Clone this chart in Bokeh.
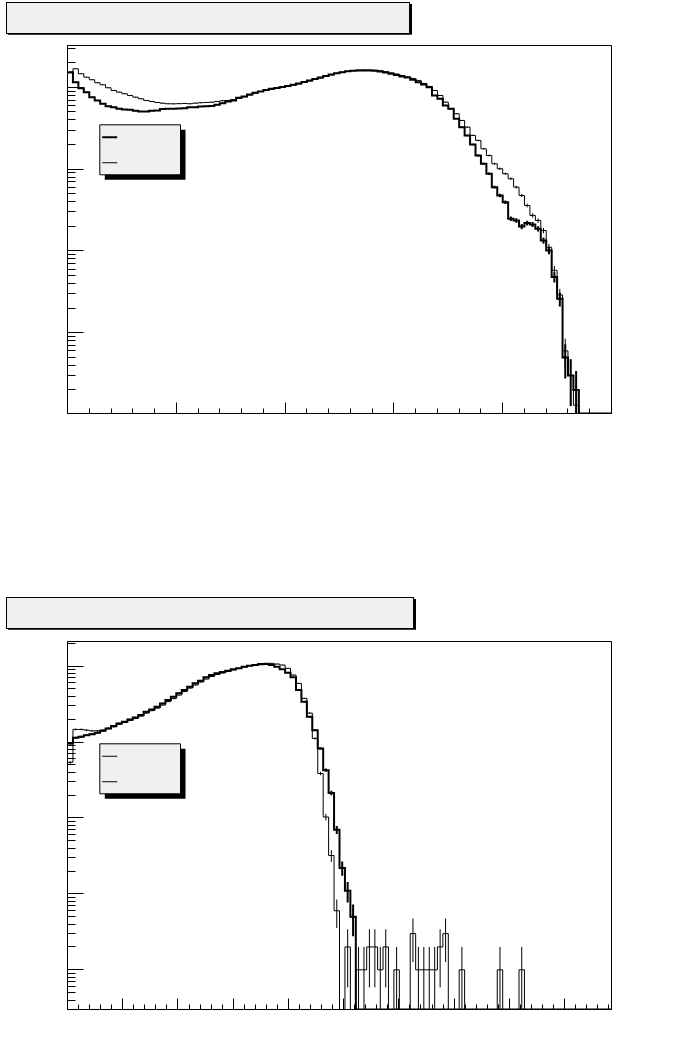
import numpy as np
from bokeh.plotting import figure
from bokeh.models import BoxAnnotation, FixedTicker, Range1d, CustomJSTickFormatter, Div
from bokeh.layouts import column
from bokeh.embed import file_html
from bokeh.resources import INLINE

# ---------------- data ----------------
N_BINS = 100

# upper panel
x1_range = (0.0, 5.0)
y1_range = (1.03, 32500.0)
x1_major = [0, 1, 2, 3, 4, 5]
h1_thick = [15350, 11580, 9780, 8740, 7590, 6920, 6305, 5895, 5730, 5475,
            5370, 5325, 5180, 5075, 5075, 5180, 5220, 5440, 5490, 5460,
            5500, 5570, 5730, 5730, 5845, 5895, 5900, 6130, 6410, 6725,
            6920, 7465, 7740, 8190, 8590, 8915, 9300, 9620, 9835, 10120,
            10405, 10760, 11170, 11650, 12150, 12680, 13220, 13790, 14385, 14920,
            15350, 15740, 16010, 16100, 16100, 16050, 15990, 15654, 15220, 14670,
            14185, 13600, 13220, 12390, 11580, 10855, 10060, 7965, 7260, 6010,
            5475, 4135, 3265, 2585, 2005, 1470, 1165, 879, 603, 477,
            395, 248, 236, 199, 219, 211, 187, 134, 101, 48,
            26, 5, 3, 2, 0, 0, 0, 0, 0, 0]
h1_thin = [15090, 16890, 14670, 13330, 12390, 11390, 10760, 9890, 9170, 8740,
           8355, 7965, 7590, 7260, 6920, 6725, 6540, 6410, 6305, 6290,
           6320, 6360, 6305, 6410, 6485, 6540, 6595, 6725, 6860, 6920,
           7060, 7360, 7680, 8075, 8545, 8915, 9150, 9480, 9700, 10010,
           10240, 10620, 11000, 11480, 11980, 12500, 13050, 13600, 14200, 14800,
           15250, 15700, 16050, 16250, 16300, 16300, 16200, 15950, 15550, 15050,
           14550, 13950, 13400, 12860, 12150, 11170, 10260, 9170, 7965, 6595,
           5475, 4760, 3940, 3265, 2585, 2245, 1775, 1470, 1165, 1012,
           879, 764, 603, 477, 360, 272, 236, 178, 111, 58,
           29, 6, 3, 1.3, 0, 0, 0, 0, 0, 0]

# lower panel
x2_range = (0.0, 9.85)
y2_range = (0.30, 21100.0)
x2_major = [0, 1, 2, 3, 4, 5, 6, 7, 8, 9]
h2_thick = [958, 1136, 1172, 1233, 1271, 1322, 1405, 1512, 1621, 1759,
            1847, 1986, 2110, 2265, 2503, 2692, 2913, 3230, 3570, 3948,
            4376, 4839, 5348, 5928, 6417, 7113, 7630, 8036, 8357, 8696,
            9073, 9354, 9819, 10121, 10339, 10562, 10658, 10339, 9819, 9073,
            8183, 7113, 4839, 3391, 2150, 1435, 823, 426, 214, 70,
            22, 11, 5, 0, 0, 0, 0, 0, 0, 0,
            0, 0, 0, 0, 0, 0, 0, 0, 0, 0,
            0, 0, 0, 0, 0, 0, 0, 0, 0, 0,
            0, 0, 0, 0, 0, 0, 0, 0, 0, 0,
            0, 0, 0, 0, 0, 0, 0, 0, 0, 0]
h2_thin = [540, 1466, 1466, 1435, 1405, 1405, 1435, 1512, 1587, 1722,
           1814, 1927, 2048, 2196, 2406, 2596, 2800, 3067, 3411, 3737,
           4156, 4622, 5140, 5633, 6169, 6757, 7292, 7747, 8111, 8485,
           8882, 9297, 9730, 10183, 10497, 10821, 10888, 10888, 10658, 10339,
           9354, 7630, 5928, 3760, 2406, 1115, 385, 103, 32, 6,
           0, 2, 0, 1, 1, 2, 2, 1, 2, 0,
           1, 0, 0, 3, 1, 1, 1, 1, 2, 3,
           0, 0, 1, 0, 0, 0, 0, 0, 0, 1,
           0, 0, 0, 1, 0, 0, 0, 0, 0, 0,
           0, 0, 0, 0, 0, 0, 0, 0, 0, 0]

PANEL_FILL = "#f0f0f0"
FRAME_W, FRAME_H = 544, 368


def step_path(edges, vals, ymin):
    v = np.asarray(vals, dtype=float)
    v = np.where(v > 0, v, ymin)
    xs = np.repeat(edges, 2)[1:-1]
    ys = np.repeat(v, 2)
    return xs, ys


def err_bars(edges, vals, ymin):
    v = np.asarray(vals, dtype=float)
    c = 0.5 * (edges[:-1] + edges[1:])
    m = v > 0
    e = np.sqrt(v[m])
    lo = np.maximum(v[m] - e, ymin)
    hi = v[m] + e
    return c[m], lo, hi


def sbox(left, right, top, bottom, **kw):
    # screen units: x from frame left, y upward from frame bottom
    return BoxAnnotation(left=left, right=right, top=top, bottom=bottom,
                         left_units="screen", right_units="screen",
                         top_units="screen", bottom_units="screen", **kw)


def title_box(width, margin):
    return Div(text="", width=width, height=32, margin=margin,
               styles={"background-color": PANEL_FILL,
                       "border": "1px solid black",
                       "box-shadow": "2px 2px 0px black",
                       "box-sizing": "border-box"})


def panel(xr, yr, xmajor, thick, thin, min_top, min_bottom, leg_top, thick_legend):
    p = figure(frame_width=FRAME_W, frame_height=FRAME_H, x_range=Range1d(*xr),
               y_range=Range1d(*yr), y_axis_type="log", output_backend="svg",
               toolbar_location=None, min_border_left=67, min_border_right=10,
               min_border_top=min_top, min_border_bottom=min_bottom)
    p.grid.visible = False
    p.outline_line_color = "black"
    p.outline_line_alpha = 1
    p.outline_line_width = 1
    p.background_fill_color = "white"
    p.border_fill_color = "white"

    minor_x = list(np.arange(xr[0], xr[1] + 1e-9, 0.2))
    p.xaxis.ticker = FixedTicker(ticks=xmajor, minor_ticks=minor_x)
    decades = [10.0 ** k for k in range(-1, 6)]
    minor_y = [d * m for d in decades for m in range(2, 10)]
    p.yaxis.ticker = FixedTicker(ticks=decades, minor_ticks=minor_y)
    for ax in (p.xaxis[0], p.yaxis[0]):
        ax.formatter = CustomJSTickFormatter(code="return ''")
        ax.major_label_text_font_size = "0px"
        ax.axis_line_color = "black"
        ax.major_tick_line_color = "black"
        ax.minor_tick_line_color = "black"
        ax.major_tick_out = 0
        ax.minor_tick_out = 0
    p.xaxis.major_tick_in = 11
    p.xaxis.minor_tick_in = 5
    p.yaxis.major_tick_in = 16
    p.yaxis.minor_tick_in = 8

    edges = np.linspace(xr[0], xr[1], N_BINS + 1)
    ymin = yr[0]
    for vals, lw in ((thin, 1), (thick, 2)):
        xs, ys = step_path(edges, vals, ymin)
        p.line(xs, ys, line_color="black", line_width=lw, line_join="miter")
        c, lo, hi = err_bars(edges, vals, ymin)
        p.segment(c, lo, c, hi, line_color="black", line_width=lw)

    # legend box with shadow
    p.add_layout(sbox(37.3, 118, leg_top - 5, leg_top - 55, fill_color="black",
                      fill_alpha=1, line_color=None))
    p.add_layout(sbox(32.3, 113, leg_top, leg_top - 50, fill_color=PANEL_FILL,
                      fill_alpha=1, line_color="black", line_alpha=1, line_width=1))
    h1 = 2.0 if thick_legend else 1.0
    y_a = leg_top - 12.4
    y_b = leg_top - 38.0
    p.add_layout(sbox(34.7, 49.7, y_a + h1 / 2, y_a - h1 / 2, fill_color="black",
                      fill_alpha=1, line_color=None))
    p.add_layout(sbox(34.7, 49.7, y_b + 0.5, y_b - 0.5, fill_color="black",
                      fill_alpha=1, line_color=None))
    return p


d1 = title_box(404, (2, 0, 0, 6))
p1 = panel(x1_range, y1_range, x1_major, h1_thick, h1_thin, 11, 184, 288.7, True)
d2 = title_box(408, (0, 0, 0, 6))
p2 = panel(x2_range, y2_range, x2_major, h2_thick, h2_thin, 12, 10, 265.7, False)

layout = column(d1, p1, d2, p2, spacing=0)

open("out.html", "w").write(file_html(layout, INLINE))
